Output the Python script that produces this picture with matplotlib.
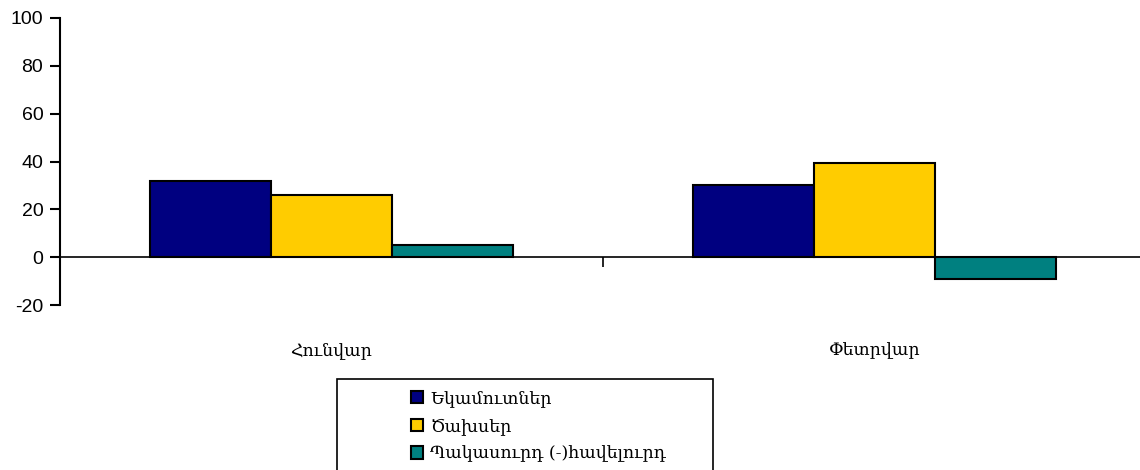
import numpy as np
import matplotlib
matplotlib.use("Agg")
import matplotlib.pyplot as plt
from matplotlib.patches import Rectangle

plt.rcParams["axes.unicode_minus"] = False

# data
months = ["Հունվար", "Փետրվար"]
series_names = ["Եկամուտներ", "Ծախսեր", "Պակասուրդ (-)հավելուրդ"]
income = [32, 30]
expenses = [26, 39.3]
balance = [5, -9.3]
colors = ["#000080", "#FFCC00", "#008080"]

arm_font = "DejaVu Serif"

fig = plt.figure(figsize=(11.4, 4.7), dpi=100)
ax = fig.add_axes([60 / 1140, 165 / 470, 1086 / 1140, 287 / 470])

x = np.arange(len(months))
w = 0.223
for i, (vals, name, c) in enumerate(zip([income, expenses, balance], series_names, colors)):
    ax.bar(x + (i - 1) * w, vals, width=w, color=c, edgecolor="black",
           linewidth=1.5, label=name, zorder=2)

ax.set_xlim(-0.5, 1.5)
ax.set_ylim(-20, 100)
ax.set_yticks(range(-20, 101, 20))

ax.spines["top"].set_visible(False)
ax.spines["right"].set_visible(False)
ax.spines["left"].set_linewidth(1.5)
ax.spines["bottom"].set_position(("data", 0))
ax.spines["bottom"].set_linewidth(1.2)
ax.spines["bottom"].set_zorder(3)

ax.tick_params(axis="y", length=7, width=1.5, pad=5, labelsize=14)
for lab in ax.get_yticklabels():
    lab.set_fontfamily("Liberation Sans")

ax.set_xticks(x)
ax.set_xticklabels(months, fontfamily=arm_font, fontsize=12.5)
ax.tick_params(axis="x", which="major", length=0, pad=61)
ax.set_xticks([0.5], minor=True)
ax.tick_params(axis="x", which="minor", length=7, width=1.2)

# legend frame (wider than the entries, runs off the bottom)
fig.patches.append(Rectangle((337 / 1140, -0.05), 376 / 1140, 0.05 + (470 - 379) / 470,
                             transform=fig.transFigure, fill=False,
                             edgecolor="black", linewidth=1.2))
leg = fig.legend(loc="upper left", bbox_to_anchor=(411 / 1140, (470 - 390) / 470),
                 frameon=False, prop={"family": arm_font, "size": 12.5},
                 handlelength=0.7, handleheight=0.7, handletextpad=0.4,
                 labelspacing=0.62, borderpad=0, borderaxespad=0)

fig.savefig("out.png", dpi=100)
